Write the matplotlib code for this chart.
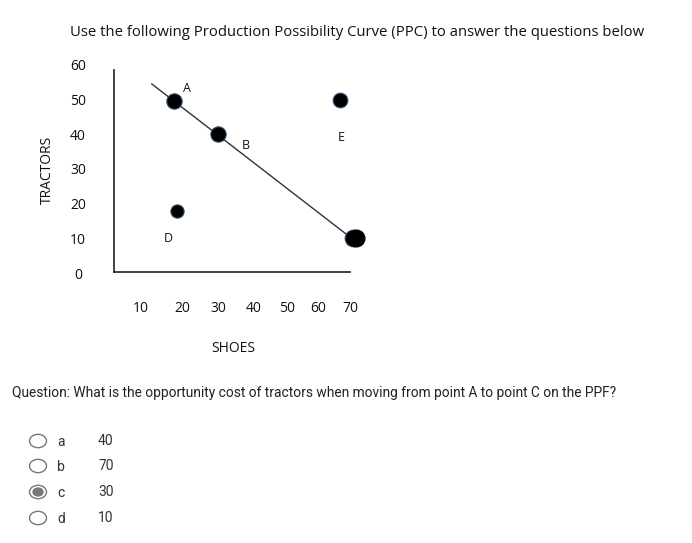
import matplotlib
matplotlib.use("Agg")
import matplotlib.pyplot as plt

# chart data
point_names = ["A", "B", "C", "D", "E"]
shoes = [17, 30, 70, 18, 66]
tractors = [50, 40.6, 10.9, 18.6, 50.3]
ppc_shoes = [10.4, 69.1]
ppc_tractors = [54.9, 11.1]
tractor_ticks = [0, 10, 20, 30, 40, 50, 60]
shoe_ticks = [10, 20, 30, 40, 50, 60, 70]
options = ["a", "b", "c", "d"]
answers = ["40", "70", "30", "10"]
selected = "c"

W, H = 692, 543
fig = plt.figure(figsize=(W / 100, H / 100), dpi=100)
fig.patch.set_facecolor("white")

def fx(px):
    return px / W

def fy(py):
    return 1 - py / H

chart_font = "Open Sans"
ui_font = "Roboto"

# plot area in pixels: x 114..350, y 70..272
ax = fig.add_axes([fx(114), fy(272), fx(350) - fx(114), fy(70) - fy(272)])
ax.set_xlim(-0.8, 69.1)
ax.set_ylim(1.1, 58.9)
for s in ["top", "right"]:
    ax.spines[s].set_visible(False)
for s in ["left", "bottom"]:
    ax.spines[s].set_linewidth(1.2)
    ax.spines[s].set_color("#222222")
ax.set_xticks([])
ax.set_yticks([])
ax.patch.set_alpha(0)

ax.plot(ppc_shoes, ppc_tractors, color="#333333", lw=1.0, clip_on=False)

sizes = [11, 11, 12, 9.5, 10.5]
label_offsets = [(13, 13), (28, -12), (-40, -1), (-9, -28), (2, -37)]
for name, x, y, ms, off in zip(point_names, shoes, tractors, sizes, label_offsets):
    if name == "C":
        ax.plot(x, y, marker="o", ms=ms, color="black", mec="#2a4a6a", mew=0.8,
                clip_on=False, zorder=3)
        ax.plot(x + 0.8, y, marker="o", ms=ms, color="black", clip_on=False, zorder=3)
    else:
        ax.plot(x, y, marker="o", ms=ms, color="black", mec="#2a4a6a", mew=0.8,
                clip_on=False, zorder=3)
    ax.annotate(name, (x, y), xytext=off, textcoords="offset pixels",
                ha="center", va="center", fontsize=9, family=chart_font,
                color="#111111")

# tractor tick labels
ytrans = ax.get_yaxis_transform()
for t in tractor_ticks:
    ax.text(-0.153, t, str(t), transform=ytrans, ha="center", va="center",
            fontsize=10, family=chart_font, color="#111111", clip_on=False)

# shoe tick labels (not aligned with the plotted scale in the original)
shoe_label_px = [141, 182, 218, 254, 287, 318, 350]
for t, px in zip(shoe_ticks, shoe_label_px):
    fig.text(fx(px), fy(309), str(t), ha="center", va="center",
             fontsize=10, family=chart_font, color="#111111")

fig.text(fx(47), fy(170), "TRACTORS", rotation=90, ha="center", va="center",
         fontsize=10, family=chart_font, color="#111111")
fig.text(fx(233), fy(349), "SHOES", ha="center", va="center",
         fontsize=10, family=chart_font, color="#111111")

fig.text(fx(70), fy(33),
         "Use the following Production Possibility Curve (PPC) to answer the questions below",
         ha="left", va="center", fontsize=10.7, family=chart_font, color="#111111")

fig.text(fx(12), fy(393),
         "Question: What is the opportunity cost of tractors when moving from point A to point C on the PPF?",
         ha="left", va="center", fontsize=9.9, family=ui_font, color="#222222")

# radio options
rows_px = [441, 466, 492, 518]
for opt, ans, py in zip(options, answers, rows_px):
    circ = plt.Circle((fx(38), fy(py)), 8.5 / W, transform=fig.transFigure,
                      fill=False, ec="#777777", lw=1.0)
    fig.patches.append(circ)
    if opt == selected:
        dot = plt.Circle((fx(38), fy(py)), 5 / W, transform=fig.transFigure,
                         color="#777777")
        fig.patches.append(dot)
    fig.text(fx(57), fy(py + 1), opt, ha="left", va="center", fontsize=10,
             family=ui_font, color="#333333")
    fig.text(fx(98), fy(py), ans, ha="left", va="center", fontsize=10,
             family=ui_font, color="#333333")

fig.savefig("out.png", dpi=100)
